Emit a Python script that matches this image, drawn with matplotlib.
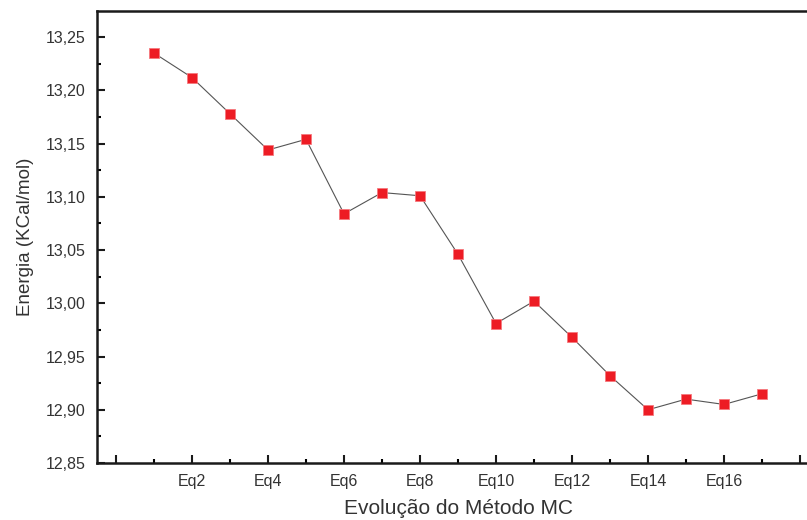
import matplotlib
matplotlib.use('Agg')
import matplotlib.pyplot as plt
from matplotlib.ticker import MultipleLocator, FuncFormatter

plt.rcParams['font.family'] = ['Liberation Sans', 'DejaVu Sans']

steps = list(range(1, 18))
energia = [13.235, 13.212, 13.178, 13.144, 13.154, 13.084, 13.104, 13.101,
           13.046, 12.981, 13.002, 12.968, 12.932, 12.900, 12.910, 12.905, 12.915]
major_pos = list(range(0, 19, 2))
major_lbl = ['', 'Eq2', 'Eq4', 'Eq6', 'Eq8', 'Eq10', 'Eq12', 'Eq14', 'Eq16', '']

fig = plt.figure(figsize=(8.07, 5.2), dpi=100)
ax = fig.add_axes([0.1202, 0.1096, 0.8947, 0.8692])

ax.plot(steps, energia, color='#555555', lw=0.8, marker='s', ms=6.5,
        mfc='#ED1C24', mec='#F5787D', mew=0.6)

ax.set_xlim(-0.5, 18.5)
ax.set_ylim(12.85, 13.2745)
ax.set_xticks(major_pos)
ax.set_xticklabels(major_lbl)
ax.xaxis.set_minor_locator(MultipleLocator(1))
ax.yaxis.set_major_locator(MultipleLocator(0.05))
ax.yaxis.set_minor_locator(MultipleLocator(0.025))
ax.yaxis.set_major_formatter(FuncFormatter(lambda v, p: f'{v:.2f}'.replace('.', ',')))

ax.tick_params(which='major', direction='in', length=6, width=1.5, labelsize=11.5,
               colors='#1a1a1a', pad=8)
ax.tick_params(which='minor', direction='in', length=3, width=1.5)
ax.tick_params(axis='y', labelcolor='#333333')
ax.tick_params(axis='x', labelcolor='#333333')
for s in ax.spines.values():
    s.set_linewidth(1.8)
    s.set_color('#1a1a1a')

ax.set_xlabel('Evolução do Método MC', fontsize=15, color='#333333', labelpad=7)
ax.set_ylabel('Energia (KCal/mol)', fontsize=13.5, color='#333333', labelpad=9)

fig.savefig('out.png', dpi=100)
